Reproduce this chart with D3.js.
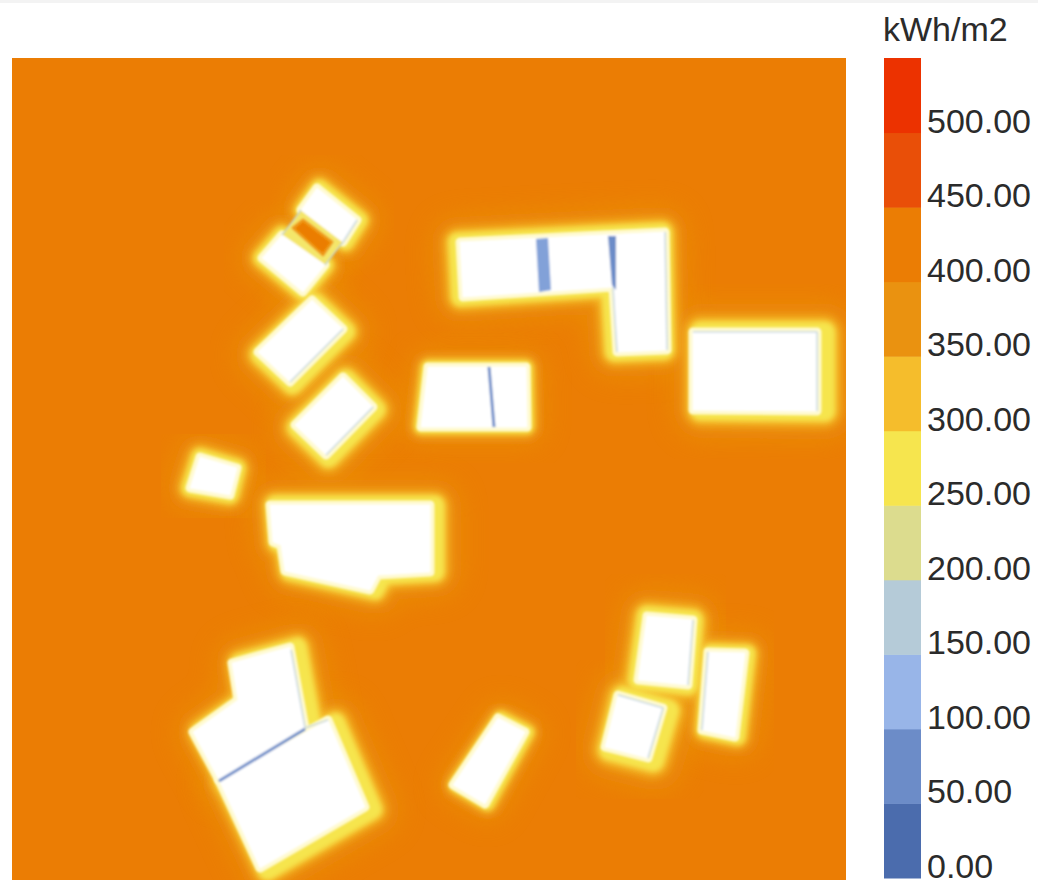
<!DOCTYPE html>
<html><head><meta charset="utf-8">
<script src="https://cdn.jsdelivr.net/npm/d3@7/dist/d3.min.js"></script>
<style>html,body{margin:0;padding:0;background:#fff}svg{display:block}</style>
</head><body><svg id="c" width="1038" height="882"></svg>
<script>
// Legend
const unit = "kWh/m2";
const breaks = [0,50,100,150,200,250,300,350,400,450,500,550];
const tickValues = [0,50,100,150,200,250,300,350,400,450,500];
const bandColours = ["#4b6cad","#6c8cc8","#98b5e8","#b5cbd8","#dcdc8e","#f6e54e","#f5bd2c","#ea9210","#eb7d04","#e94f08","#ec3200"];
// Site field values (kWh/m2)
const groundValue = 425;
const haloValues = [375,325,275];
// Building footprints in site units (834 x 822)
const blockATop = [[305,130],[345,162],[331,184],[289,152]];
const blockARing = [[289,152],[331,184],[313,207],[270,177]];
const blockALow = [[250,200],[270,177],[313,207],[291,234]];
const blockB = [[300,242],[331,271],[278,324],[246,294]];
const blockC = [[331,319],[361,349],[314,397],[283,367]];
const blockD = [[416,309],[514,309],[515,369],[409,369]];
const blockE = [[448,184],[653,174],[655,292],[605,294],[601,229],[451,239]];
const blockF = [[681,274],[805,274],[805,353],[681,352]];
const blockG = [[188,399],[225,410],[218,437],[178,430]];
const blockH = [[258,447],[418,447],[418,514],[366,517],[358,532],[273,513],[269,487],[261,484]];
const blockI = [[220,605],[278,589],[293,670],[207,722],[181,674],[226,642]];
const blockJ = [[207,722],[316,662],[353,749],[248,810]];
const blockK = [[635,558],[681,562],[676,627],[626,622]];
const blockL = [[696,594],[733,595],[723,679],[690,672]];
const blockM = [[606,637],[651,650],[636,700],[593,689]];
const blockN = [[486,660],[513,674],[473,746],[441,727]];
const courtyard = [[281,170],[291,162],[320,184],[311,197]];
const buildings = [blockATop,blockALow,blockB,blockC,blockD,blockE,blockF,blockG,blockH,blockI,blockJ,blockK,blockL,blockM,blockN];
// Halo extension caused by wider shaded sides: [dx, dy] per building, same order
const haloShift = [[1,0],[0,0],[1,1],[1,1],[0,0],[-1,0],[3,0],[0,0],[2,0],[3,0],[3,1],[0,0],[1,0],[2,1],[1,0]];
// Relative strength of the reflected-light halo per building, same order
const haloStrength = [.7,.7,.82,.85,.55,.8,.9,.72,.8,.8,.82,.85,.68,.95,.55];
// Shaded strips: polygon + value
const gapA = [[524,181],[536,180],[539,232],[527,234]];
const gapB = [[596,178],[604,178],[604,232],[600,227]];
const shadedGaps = [gapA,gapB];
const gapValues = [99,70];
const shadedLines = [
  [[477,309],[482,369]],
  [[207,723],[293,671]]
];
const lineValues = [70,70];
const faintEdges = [
  [[805,274],[805,353]],[[681,274],[805,274]],[[653,174],[655,292]],
  [[293,670],[279,592]],[[293,670],[316,662]],[[345,162],[331,184]],[[331,271],[278,324]],[[361,349],[314,397]],
  [[676,627],[681,562]],[[696,594],[690,672]],[[651,650],[636,700]],[[606,637],[651,650]],[[605,294],[601,229]],
  [[289,152],[270,177]],[[331,184],[313,207]]
];
const faintValue = 170;

const svg = d3.select("#c");
const colour = d3.scaleThreshold().domain(breaks.slice(1,-1)).range(bandColours);
const x = d3.scaleLinear().domain([0,834]).range([12,846]);
const y = d3.scaleLinear().domain([0,822]).range([58,880]);
const yLegend = d3.scaleLinear().domain([0,550]).range([878,58]);
const line = d3.line().x(d=>x(d[0])).y(d=>y(d[1]));
const poly = d3.line().x(d=>x(d[0])).y(d=>y(d[1])).curve(d3.curveLinearClosed);

const defs = svg.append("defs");
[["b8",13],["b4",4.5],["b2",2.6],["b1",1.3],["b05",0.8]].forEach(([id,s])=>{
  defs.append("filter").attr("id",id).attr("x","-60%").attr("y","-60%").attr("width","220%").attr("height","220%")
    .append("feGaussianBlur").attr("stdDeviation",s);
});
defs.append("clipPath").attr("id","site").append("rect")
  .attr("x",x(0)).attr("y",y(0)).attr("width",x(834)-x(0)).attr("height",y(822)-y(0));

svg.append("rect").attr("width",1038).attr("height",3).attr("fill","#f3f3f3");

const site = svg.append("g").attr("clip-path","url(#site)");
site.append("rect").attr("x",x(0)).attr("y",y(0)).attr("width",x(834)-x(0)).attr("height",y(822)-y(0))
  .attr("fill",colour(groundValue));

const layers = [
  {v:haloValues[0],w:62,f:"b8",o:.75,k:3},
  {v:haloValues[1],w:34,f:"b4",o:1,k:2.5},
  {v:haloValues[2],w:23,f:"b2",o:1,k:2.5},
  {v:null,w:9,f:"b1",o:1,k:0}
];
layers.forEach(l=>{
  site.append("g").selectAll("path").data(buildings).join("path")
    .attr("d",poly)
    .attr("transform",(d,i)=>`translate(${haloShift[i][0]*l.k},${haloShift[i][1]*l.k})`)
    .attr("fill",l.v===null?"#fffad0":colour(l.v))
    .attr("stroke",l.v===null?"#fffad0":colour(l.v))
    .attr("stroke-width",(d,i)=>l.w*(l.v===null?1:haloStrength[i])).attr("stroke-linejoin","round")
    .attr("opacity",l.o).attr("filter",`url(#${l.f})`);
});
const roofs = site.append("g").attr("filter","url(#b05)");
roofs.append("path").datum(blockARing).attr("d",poly).attr("fill","#f4e66a");
roofs.append("path").datum(courtyard).attr("d",poly).attr("fill",colour(groundValue)).attr("stroke","#ef9a14").attr("stroke-width",3).attr("stroke-linejoin","round");
roofs.selectAll("path.roof").data(buildings).join("path").attr("class","roof")
  .attr("d",poly).attr("fill","#fff").attr("stroke","#fff").attr("stroke-width",1).attr("stroke-linejoin","round");
roofs.selectAll("path.faint").data(faintEdges).join("path").attr("class","faint")
  .attr("d",line).attr("fill","none").attr("stroke",colour(faintValue)).attr("stroke-width",1.6).attr("opacity",.7);
roofs.selectAll("path.gap").data(shadedGaps).join("path").attr("class","gap")
  .attr("d",poly).attr("fill",(d,i)=>d3.interpolateRgb(colour(gapValues[i]),colour(gapValues[i]+20))(.5));
roofs.selectAll("path.shade").data(shadedLines).join("path").attr("class","shade")
  .attr("d",line).attr("fill","none").attr("stroke",(d,i)=>colour(lineValues[i])).attr("stroke-width",3);

// Legend bar
const bands = d3.pairs(breaks);
const bar = svg.append("g");
bar.selectAll("rect").data(bands).join("rect")
  .attr("x",884).attr("width",37)
  .attr("y",d=>yLegend(d[1])).attr("height",d=>yLegend(d[0])-yLegend(d[1])+0.5)
  .attr("fill",d=>colour(d[0]));

const font = "'Liberation Sans',Arial,sans-serif";
svg.append("g").selectAll("text").data(tickValues).join("text")
  .attr("x",927).attr("y",d=>yLegend(d))
  .attr("font-family",font).attr("font-size",34).attr("fill","#2b2b2b")
  .text(d=>d3.format(".2f")(d));
svg.append("text").attr("x",883).attr("y",41).attr("font-family",font).attr("font-size",34)
  .attr("fill","#2b2b2b").text(unit);
</script></body></html>
